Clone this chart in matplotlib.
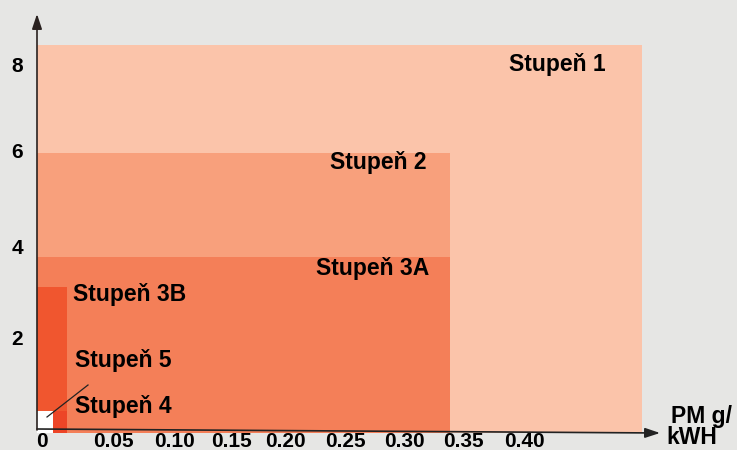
import matplotlib
matplotlib.use("Agg")
import matplotlib.pyplot as plt

# ---- data ----
stages = ["Stupeň 1", "Stupeň 2", "Stupeň 3A", "Stupeň 3B", "Stupeň 4", "Stupeň 5"]
pm_limits = [0.497, 0.339, 0.339, 0.025, 0.025, 0.0135]    # PM g/kWh
nox_limits = [8.44, 6.07, 3.77, 3.12, 0.40, 0.40]          # NOx g/kWh
colors = ["#fbc4aa", "#f8a07c", "#f47f58", "#f0562f", "#ed4527", "#ffffff"]

x_tick_pos = [0.004, 0.063, 0.113, 0.160, 0.204, 0.253, 0.302, 0.350, 0.400]
x_tick_labels = ["0", "0.05", "0.10", "0.15", "0.20", "0.25", "0.30", "0.35", "0.40"]
y_tick_pos = [2.02, 4.02, 6.13, 8.02]
y_tick_labels = ["2", "4", "6", "8"]

BG = "#e6e6e4"
FONT = "Liberation Sans"
W, H = 737, 450
X0, Y0 = 37, 429          # origin in pixels
PX_X, PX_Y = 1217.5, 45.5  # pixels per unit

fig = plt.figure(figsize=(W / 100, H / 100), dpi=100, facecolor=BG)
ax = fig.add_axes([X0 / W, (H - Y0) / H, (660 - X0) / W, (Y0 - 14) / H])
ax.set_facecolor("none")
ax.set_xlim(0, (660 - X0) / PX_X)
ax.set_ylim(0, (Y0 - 14) / PX_Y)
for s in ax.spines.values():
    s.set_visible(False)

base = -4 / PX_Y
for pm, nox, c in zip(pm_limits, nox_limits, colors):
    ax.bar(0, nox - base, width=pm, bottom=base, align="edge", color=c,
           linewidth=0, clip_on=False, zorder=1)

# axes arrows
ax.annotate("", xy=(1.0, -4 / (Y0 - 14)), xytext=(0, 0), xycoords="axes fraction",
            arrowprops=dict(arrowstyle="-|>,head_length=0.9,head_width=0.3",
                            color="#222222", lw=1.2, shrinkA=0, shrinkB=0),
            annotation_clip=False, zorder=5)
ax.annotate("", xy=(0, 1.0), xytext=(0, -1 / (Y0 - 14)), xycoords="axes fraction",
            arrowprops=dict(arrowstyle="-|>,head_length=0.9,head_width=0.3",
                            color="#2a2220", lw=1.2, shrinkA=0, shrinkB=0),
            annotation_clip=False, zorder=5)

ax.set_xticks(x_tick_pos, x_tick_labels)
ax.set_yticks(y_tick_pos, y_tick_labels)
ax.tick_params(axis="both", length=0, labelsize=15)
ax.tick_params(axis="x", pad=2.5)
ax.tick_params(axis="y", pad=10)
for lab in ax.get_xticklabels() + ax.get_yticklabels():
    lab.set_fontfamily(FONT)
    lab.set_fontweight("bold")

def px(xp, yp):
    return (xp - X0) / PX_X, (Y0 - yp) / PX_Y

label_px = {
    "Stupeň 1": (557, 65),
    "Stupeň 2": (378, 163),
    "Stupeň 3A": (373, 268),
    "Stupeň 3B": (130, 294),
    "Stupeň 5": (123, 361),
    "Stupeň 4": (123, 407),
}
for name in stages:
    x, y = px(*label_px[name])
    ax.text(x, y, name, ha="center", va="center", fontsize=16.5,
            fontfamily=FONT, fontweight="bold", color="black", zorder=6)

# leader line
(xa, ya), (xb, yb) = px(47, 417), px(88, 385)
ax.plot([xa, xb], [ya, yb], color="#222222", lw=0.9, clip_on=False, zorder=6)

x, y = px(671, 416)
ax.text(x, y, "PM g/", ha="left", va="center", fontsize=16.5, fontfamily=FONT,
        fontweight="bold")
x, y = px(666, 438)
ax.text(x, y, "kWH", ha="left", va="center", fontsize=16.5, fontfamily=FONT,
        fontweight="bold")

fig.savefig("out.png", dpi=100, facecolor=BG)
